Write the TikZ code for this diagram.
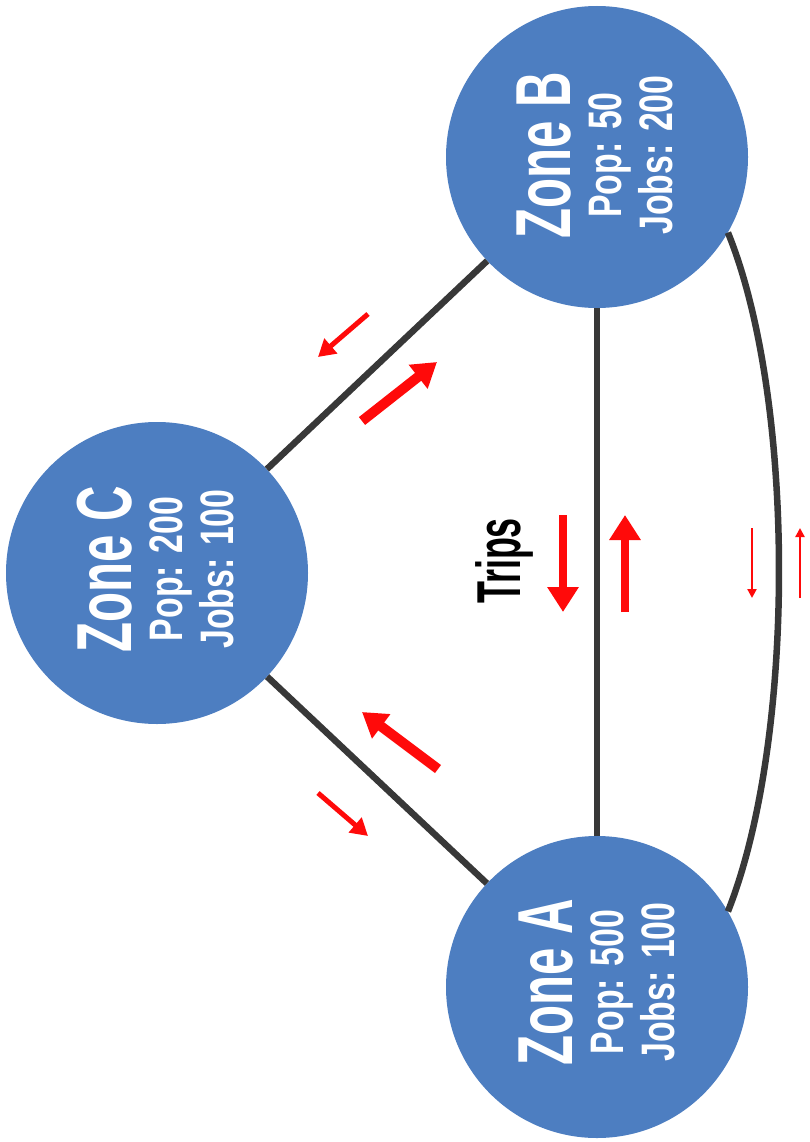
\documentclass[tikz,border=0pt]{standalone}
\usepackage{fontspec}
\setmainfont{Liberation Sans}
\usetikzlibrary{arrows.meta}
\definecolor{zoneblue}{HTML}{4D7EC1}
\definecolor{linegray}{HTML}{383838}
\definecolor{arrowred}{HTML}{FF0A0A}
\newcommand{\ztitle}[1]{\scalebox{0.63}[1]{\fontsize{78}{51}\selectfont #1}}
\newcommand{\zline}[1]{\scalebox{0.72}[1]{#1}}
\begin{document}
\begin{tikzpicture}[x=1pt,y=-1pt,
  zone/.style={circle, fill=zoneblue, minimum size=302pt, inner sep=0pt},
  zonetext/.style={rotate=90, text=white, align=center, inner sep=0pt,
    font={\bfseries\fontsize{47}{51}\selectfont\lineskiplimit=-100pt}},
  link/.style={draw=linegray, line width=6.5pt},
  bigarrow/.style={draw=arrowred, line width=10pt, -{Triangle[length=24pt,width=29pt]}},
  smallarrow/.style={draw=arrowred, line width=5pt, -{Triangle[length=17pt,width=19pt]}},
  midarrow/.style={draw=arrowred, line width=8pt, -{Triangle[length=25pt,width=30pt]}},
  tinyarrow/.style={draw=arrowred, line width=2.5pt, -{Triangle[length=9pt,width=9pt]}}]
\useasboundingbox (0,0) rectangle (809,1142);

% zones
\node[zone] (B) at (597,157) {};
\node[zone] (C) at (157,573) {};
\node[zone] (A) at (597,987) {};

\node[zonetext] (Bt) at (595,155) {\ztitle{Zone B}\\ \zline{Pop: 50}\\ \zline{Jobs: 200}};
\node[zonetext] (Ct) at (155,569) {\ztitle{Zone C}\\ \zline{Pop: 200}\\ \zline{Jobs: 100}};
\node[zonetext] (At) at (597,982) {\ztitle{Zone A}\\ \zline{Pop: 500}\\ \zline{Jobs: 100}};

% links
\draw[link] (B) -- (C);
\draw[link] (C) -- (A);
\draw[link] (B) -- (A);
\draw[link] (B.-30) .. controls (796,400) and (796,740) .. (A.30);

% label
\node[rotate=90, inner sep=0pt, font={\bfseries\fontsize{62}{62}\selectfont}] (trips) at (504,561) {\scalebox{0.58}[1]{Trips}};

% trip arrows B-C
\coordinate (bc1s) at (368,314); \coordinate (bc1e) at (318,357);
\coordinate (bc2s) at (362,421); \coordinate (bc2e) at (437,362);
\draw[smallarrow] (bc1s) -- (bc1e);
\draw[bigarrow] (bc2s) -- (bc2e);

% trip arrows C-A
\coordinate (ca1s) at (438,769); \coordinate (ca1e) at (362,712);
\coordinate (ca2s) at (318,793); \coordinate (ca2e) at (368,836);
\draw[bigarrow] (ca1s) -- (ca1e);
\draw[smallarrow] (ca2s) -- (ca2e);

% trip arrows B-A (straight)
\coordinate (ba1s) at (563,515); \coordinate (ba1e) at (563,612);
\coordinate (ba2s) at (625,612); \coordinate (ba2e) at (625,515);
\draw[midarrow] (ba1s) -- (ba1e);
\draw[midarrow] (ba2s) -- (ba2e);

% trip arrows B-A (arc)
\coordinate (ar1s) at (752,528); \coordinate (ar1e) at (752,598);
\coordinate (ar2s) at (800,598); \coordinate (ar2e) at (800,528);
\draw[tinyarrow] (ar1s) -- (ar1e);
\draw[tinyarrow] (ar2s) -- (ar2e);
\end{tikzpicture}
\end{document}
